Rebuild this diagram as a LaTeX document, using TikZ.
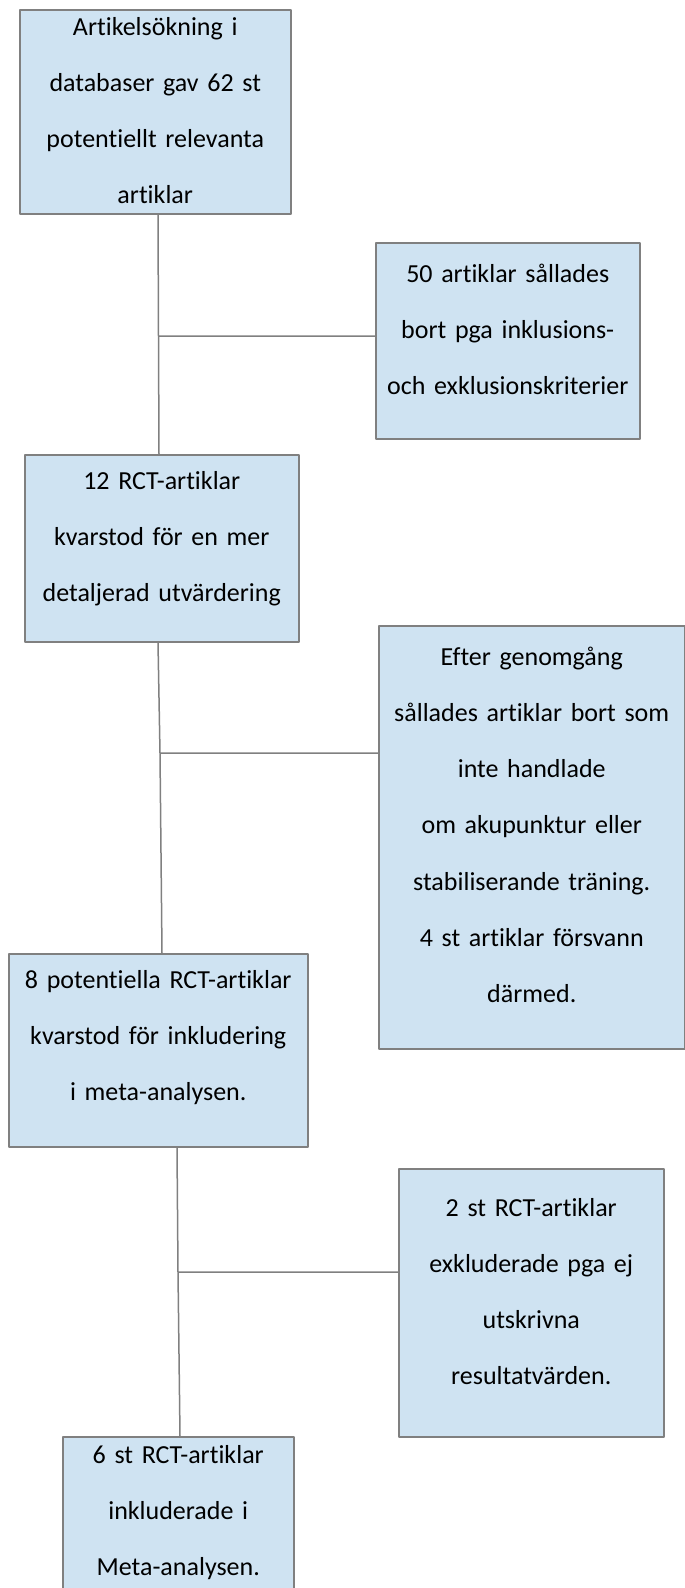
\documentclass[tikz,border=0pt]{standalone}
\usepackage{fontspec}
\setmainfont{Carlito}[RawFeature=-liga]
\definecolor{boxblue}{RGB}{207,227,242}
\definecolor{edgegray}{RGB}{128,128,128}
\begin{document}
\begin{tikzpicture}[x=1pt,y=-1pt,line join=round,
  box/.style={draw=edgegray,fill=boxblue,line width=1.5pt,inner sep=0pt,anchor=north west},
  txt/.style={anchor=base,align=center,inner sep=0pt,font=\fontsize{26}{56.3}\selectfont},
  conn/.style={draw=edgegray,line width=1.5pt}]
\useasboundingbox (0,0) rectangle (685,1588);
\clip (0,0) rectangle (685,1588);
\node[box,minimum width=271pt,minimum height=204pt] (b1) at (19,9) {};
\node[box,minimum width=264pt,minimum height=196pt] (b2) at (375,242) {};
\node[box,minimum width=274pt,minimum height=187pt] (b3) at (24,454) {};
\node[box,minimum width=306pt,minimum height=423pt] (b4) at (378,625) {};
\node[box,minimum width=299pt,minimum height=193pt] (b5) at (8,953) {};
\node[box,minimum width=265pt,minimum height=268pt] (b6) at (398,1168) {};
\node[box,minimum width=231pt,minimum height=200pt] (b7) at (62,1436) {};
\node[txt,text width=265pt] (t1) at (b1.north |- 0,35) {Artikelsökning i\\databaser gav 62 st\\potentiellt relevanta\\artiklar};
\node[txt,text width=258pt] (t2) at (b2.north |- 0,282) {50 artiklar sållades\\bort pga inklusions-\\och exklusionskriterier};
\node[txt,text width=268pt] (t3) at (b3.north |- 0,489) {12 RCT-artiklar\\kvarstod för en mer\\detaljerad utvärdering};
\node[txt,text width=300pt] (t4) at (b4.north |- 0,665) {Efter genomgång\\sållades artiklar bort som\\inte handlade\\om akupunktur eller\\stabiliserande träning.\\4 st artiklar försvann\\därmed.};
\node[txt,text width=293pt] (t5) at (b5.north |- 0,988) {8 potentiella RCT-artiklar\\kvarstod för inkludering\\i meta-analysen.};
\node[txt,text width=259pt] (t6) at (b6.north |- 0,1216) {2 st RCT-artiklar\\exkluderade pga ej\\utskrivna\\resultatvärden.};
\node[txt,text width=225pt] (t7) at (b7.north |- 0,1463) {6 st RCT-artiklar\\inkluderade i\\Meta-analysen.};
\coordinate (j1) at (158.5,336);
\coordinate (j2) at (160,753);
\coordinate (j3) at (178,1272);
\draw[conn] (b1.south -| 158,0)--(j1)--(b3.north -| 159,0)
  (j1)--(j1 -| b2.west);
\draw[conn] (b3.south -| 158,0)--(j2)--(b5.north -| 162,0)
  (j2)--(j2 -| b4.west);
\draw[conn] (b5.south -| 177,0)--(j3)--(b7.north -| 180,0)
  (j3)--(j3 -| b6.west);
\end{tikzpicture}
\end{document}
